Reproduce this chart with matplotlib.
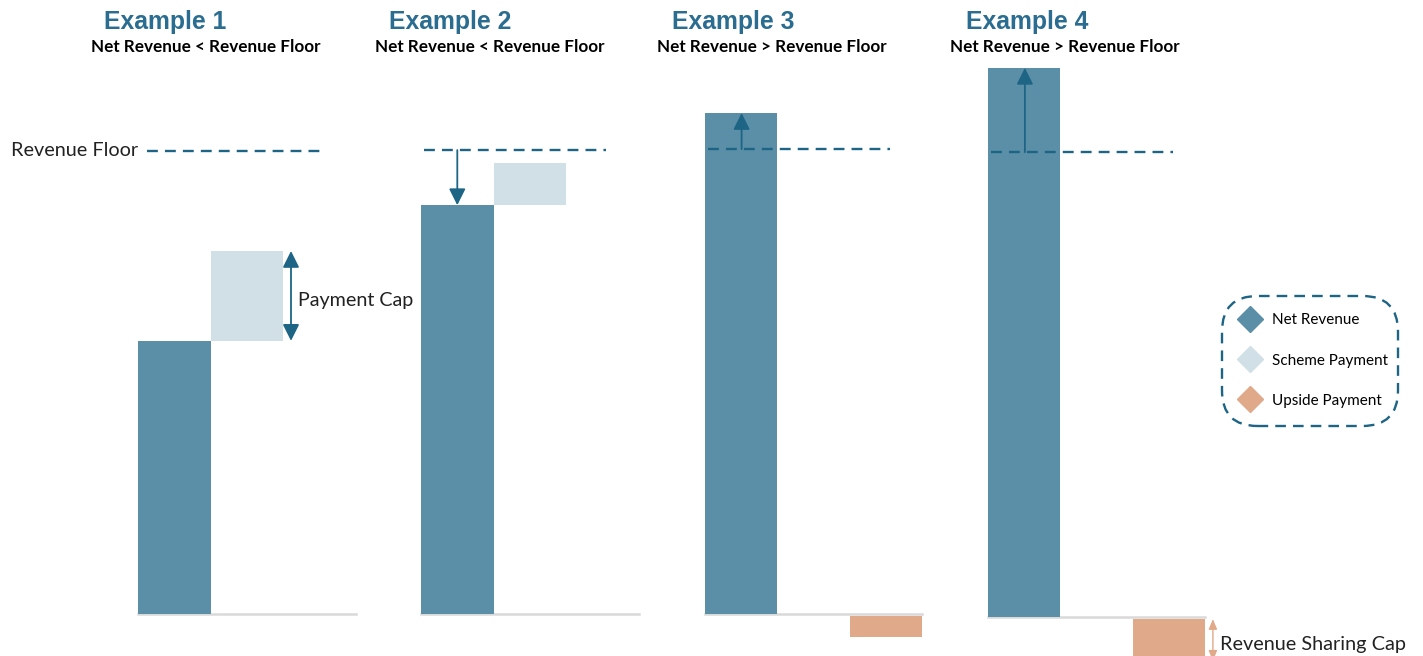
import matplotlib
matplotlib.use("Agg")
import matplotlib.pyplot as plt
from matplotlib.lines import Line2D
from matplotlib.patches import FancyBboxPatch

# ---- data (units: Revenue Floor ~ 100) ----
examples = ["Example 1", "Example 2", "Example 3", "Example 4"]
conditions = ["Net Revenue < Revenue Floor", "Net Revenue < Revenue Floor",
              "Net Revenue > Revenue Floor", "Net Revenue > Revenue Floor"]
net_revenue = [59.0, 88.3, 108.2, 118.6]
scheme_payment = [19.4, 9.1, 0.0, 0.0]
upside_payment = [0.0, 0.0, -4.5, -9.0]
revenue_floor = [100.0, 100.2, 100.4, 100.4]
legend_labels = ["Net Revenue", "Scheme Payment", "Upside Payment"]

# ---- style ----
C_NET = "#5B8FA8"
C_SCHEME = "#D1DFE6"
C_UPSIDE = "#E0A98A"
C_DARK = "#1D6485"
C_TITLE = "#2A6D90"
C_BASE = "#D9D9D9"

W, H = 1423, 656
PX = 4.63            # pixels per value unit
BASE_PX = 614        # baseline pixel row
fig = plt.figure(figsize=(W / 100, H / 100), dpi=100)
ax = fig.add_axes([0, 0, 1, 1])
ax.set_xlim(0, W)
ax.set_ylim(-(H - BASE_PX) / PX, BASE_PX / PX)
ax.axis("off")

slot = 72.5
lefts = [138 + 283.3 * i for i in range(4)]
base_shift = [0, 0, 0, -3 / PX]
title_x = [165, 450, 733, 1027]
sub_x = [206, 490, 772, 1065]

dash = (0, (4.6, 3.0))
for i in range(4):
    L = lefts[i]
    b0 = base_shift[i]
    # baseline
    ax.plot([L, L + 3 * slot], [b0, b0], color=C_BASE, lw=1.8, zorder=1)
    # net revenue
    ax.bar(L, net_revenue[i], width=slot, bottom=b0, align="edge", color=C_NET, zorder=2)
    # scheme payment
    if scheme_payment[i] > 0:
        ax.bar(L + slot, scheme_payment[i], width=slot, bottom=b0 + net_revenue[i],
               align="edge", color=C_SCHEME, zorder=2)
    # upside payment
    if upside_payment[i] < 0:
        ax.bar(L + 2 * slot, upside_payment[i], width=slot, bottom=b0 - 0.45,
               align="edge", color=C_UPSIDE, zorder=2)
    # revenue floor
    ax.plot([L + 3 + (6 if i == 0 else 0), L + 185], [b0 + revenue_floor[i]] * 2,
            color=C_DARK, lw=1.7, linestyle=dash, zorder=3)
    fig.text(title_x[i] / W, 1 - 21.5 / H, examples[i], ha="center", va="center",
             fontsize=17.8, fontweight="bold", color=C_TITLE, family="Liberation Sans")
    fig.text(sub_x[i] / W, 1 - 47 / H, conditions[i], ha="center", va="center",
             fontsize=12.3, fontweight="bold", color="black", family="Lato")

# arrows
HS = "head_length=1.0,head_width=0.5"
ap = dict(arrowstyle="-|>," + HS, color=C_DARK, lw=1.3, shrinkA=0, shrinkB=0)
# Example 1: payment cap
top1 = net_revenue[0] + scheme_payment[0]
ax.annotate("", xy=(lefts[0] + 153, top1), xytext=(lefts[0] + 153, net_revenue[0]),
            arrowprops=dict(arrowstyle="<|-|>," + HS, color=C_DARK, lw=1.3,
                            shrinkA=0, shrinkB=0), zorder=4)
ax.text(lefts[0] + 160, (net_revenue[0] + top1) / 2 - 1.0, "Payment Cap", ha="left",
        va="center", fontsize=14.2, family="Lato", color="#222222")
# Example 2: down arrow
ax.annotate("", xy=(lefts[1] + 36, net_revenue[1]), xytext=(lefts[1] + 36, revenue_floor[1]),
            arrowprops=ap, zorder=4)
# Example 3 & 4: up arrows
for i in (2, 3):
    b0 = base_shift[i]
    ax.annotate("", xy=(lefts[i] + 37, b0 + net_revenue[i]),
                xytext=(lefts[i] + 37, b0 + revenue_floor[i]), arrowprops=ap, zorder=4)
# revenue sharing cap arrow
b3 = base_shift[3]
ax.annotate("", xy=(lefts[3] + 225, b3 - 0.45 + upside_payment[3]), xytext=(lefts[3] + 225, b3 - 0.45),
            arrowprops=dict(arrowstyle="<|-|>,head_length=0.6,head_width=0.25",
                            color=C_UPSIDE, lw=1.0, shrinkA=0, shrinkB=0),
            zorder=4, annotation_clip=False)
ax.text(lefts[3] + 232, b3 - 0.45 + upside_payment[3] * 0.6, "Revenue Sharing Cap",
        ha="left", va="center", fontsize=14.3, family="Lato", color="#222222")

# revenue floor label
ax.text(11, revenue_floor[0], "Revenue Floor", ha="left", va="center",
        fontsize=14.3, family="Lato", color="#222222")

# legend box
box = FancyBboxPatch((1222 / W, 1 - 426 / H), 176 / W, 130 / H,
                     boxstyle="round,pad=0,rounding_size=0.025",
                     transform=fig.transFigure, fill=False, edgecolor=C_DARK,
                     lw=1.7, linestyle=(0, (4.5, 3)), mutation_aspect=W / H)
fig.add_artist(box)
handles = [Line2D([], [], marker="D", linestyle="none", markersize=13, color=c)
           for c in (C_NET, C_SCHEME, C_UPSIDE)]
leg = fig.legend(handles, legend_labels, loc="upper left",
                 bbox_to_anchor=(1226 / W, 1 - 301 / H), frameon=False,
                 prop=dict(family="Lato", size=11), labelspacing=1.72,
                 handletextpad=0.7, handlelength=1.5, borderpad=0.3)

fig.savefig("out.png", dpi=100)
